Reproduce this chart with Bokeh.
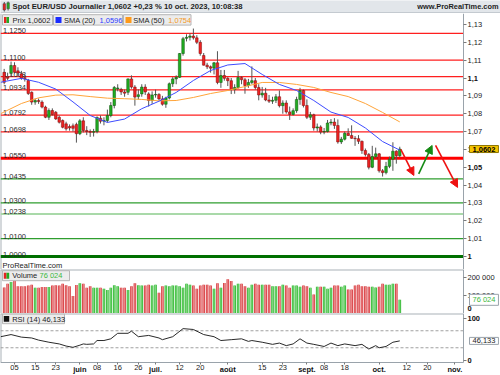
import pandas as pd
from bokeh.plotting import figure
from bokeh.layouts import column
from bokeh.models import (ColumnDataSource, Range1d, FixedTicker, Label,
                          Arrow, NormalHead, LinearAxis)
from bokeh.core.properties import value
from bokeh.embed import file_html
from bokeh.resources import INLINE

# ------------------------------------------------------------------ data
dates = pd.bdate_range("2023-05-02", "2023-10-10")          # 116 daily candles

opens = [
    1.1032, 1.1005, 1.1026, 1.1070, 1.1040, 1.1023, 1.1002, 1.0986, 1.0920, 1.0865, 1.0874,
    1.0865, 1.0837, 1.0780, 1.0818, 1.0808, 1.0780, 1.0762, 1.0743, 1.0728, 1.0732, 1.0740,
    1.0688, 1.0760, 1.0706, 1.0700, 1.0696, 1.0700, 1.0775, 1.0758, 1.0762, 1.0790, 1.0846,
    1.0940, 1.0936, 1.0922, 1.0920, 1.0995, 1.0949, 1.0896, 1.0911, 1.0949, 1.0911, 1.0874,
    1.0905, 1.0908, 1.0883, 1.0853, 1.0888, 1.0968, 1.0995, 1.1004, 1.1137, 1.1222, 1.1228,
    1.1235, 1.1225, 1.1200, 1.1126, 1.1072, 1.1063, 1.1055, 1.1085, 1.0975, 1.1014,
    1.0998, 1.0985, 1.0935, 1.0947, 1.1003, 1.0990, 1.0958, 1.0975, 1.0985, 1.0947, 1.0905,
    1.0915, 1.0877, 1.0870, 1.0875, 1.0895, 1.0845, 1.0860, 1.0810, 1.0796, 1.0817, 1.0880, 1.0930,
    1.0846, 1.0780, 1.0794, 1.0720, 1.0726, 1.0697, 1.0700, 1.0748, 1.0753, 1.0734, 1.0642,
    1.0657, 1.0690, 1.0678, 1.0662, 1.0660, 1.0645, 1.0594, 1.0572, 1.0500, 1.0560,
    1.0575, 1.0480, 1.0470, 1.0505, 1.0545, 1.0590, 1.0565,
]
highs = [
    1.1051, 1.1030, 1.1092, 1.1088, 1.1060, 1.1040, 1.1020, 1.0995, 1.0925, 1.0885, 1.0885,
    1.0875, 1.0845, 1.0830, 1.0830, 1.0815, 1.0790, 1.0768, 1.0755, 1.0740, 1.0745, 1.0750,
    1.0770, 1.0780, 1.0730, 1.0712, 1.0715, 1.0785, 1.0790, 1.0780, 1.0823, 1.0865, 1.0955,
    1.0965, 1.0945, 1.0935, 1.0998, 1.1015, 1.0960, 1.0936, 1.0965, 1.0965, 1.0920, 1.0925,
    1.0935, 1.0915, 1.0900, 1.0895, 1.0975, 1.1005, 1.1015, 1.1140, 1.1230, 1.1245, 1.1250,
    1.1277, 1.1240, 1.1212, 1.1140, 1.1085, 1.1070, 1.1090, 1.1150, 1.1045, 1.1045,
    1.1005, 1.1000, 1.0965, 1.1040, 1.1010, 1.1000, 1.0995, 1.1065, 1.1000, 1.0965, 1.0950,
    1.0945, 1.0905, 1.0895, 1.0910, 1.0930, 1.0875, 1.0875, 1.0840, 1.0830, 1.0895, 1.0945, 1.0935,
    1.0880, 1.0810, 1.0800, 1.0745, 1.0735, 1.0720, 1.0765, 1.0770, 1.0775, 1.0768, 1.0670,
    1.0700, 1.0718, 1.0735, 1.0675, 1.0680, 1.0650, 1.0605, 1.0580, 1.0620, 1.0610,
    1.0580, 1.0490, 1.0530, 1.0560, 1.0640, 1.0595, 1.0615,
]
lows = [
    1.0965, 1.0988, 1.1010, 1.1025, 1.1010, 1.0990, 1.0980, 1.0905, 1.0850, 1.0850, 1.0855,
    1.0830, 1.0775, 1.0765, 1.0790, 1.0765, 1.0745, 1.0718, 1.0705, 1.0705, 1.0700, 1.0638,
    1.0680, 1.0695, 1.0680, 1.0670, 1.0672, 1.0690, 1.0745, 1.0735, 1.0750, 1.0780, 1.0830,
    1.0925, 1.0905, 1.0895, 1.0905, 1.0940, 1.0845, 1.0880, 1.0895, 1.0905, 1.0840, 1.0855,
    1.0890, 1.0875, 1.0845, 1.0833, 1.0880, 1.0950, 1.0965, 1.1000, 1.1125, 1.1205, 1.1210,
    1.1215, 1.1190, 1.1125, 1.1070, 1.1050, 1.1030, 1.1020, 1.0965, 1.0945, 1.0985,
    1.0955, 1.0910, 1.0912, 1.0940, 1.0965, 1.0912, 1.0945, 1.0965, 1.0935, 1.0875, 1.0890,
    1.0870, 1.0860, 1.0855, 1.0860, 1.0835, 1.0800, 1.0800, 1.0765, 1.0790, 1.0805, 1.0850, 1.0835,
    1.0770, 1.0765, 1.0705, 1.0700, 1.0685, 1.0685, 1.0695, 1.0735, 1.0715, 1.0632, 1.0630,
    1.0650, 1.0675, 1.0660, 1.0620, 1.0630, 1.0575, 1.0560, 1.0488, 1.0495, 1.0550,
    1.0470, 1.0448, 1.0460, 1.0495, 1.0480, 1.0520, 1.0555,
]
closes = [
    1.0976, 1.0998, 1.1070, 1.1032, 1.1028, 1.0999, 1.0996, 1.0913, 1.0865, 1.0874, 1.0868,
    1.0837, 1.0780, 1.0818, 1.0795, 1.0771, 1.0752, 1.0724, 1.0715, 1.0720, 1.0718, 1.0688,
    1.0760, 1.0706, 1.0700, 1.0696, 1.0700, 1.0779, 1.0758, 1.0762, 1.0790, 1.0846, 1.0947,
    1.0944, 1.0922, 1.0915, 1.0995, 1.0949, 1.0893, 1.0906, 1.0949, 1.0922, 1.0874, 1.0905,
    1.0908, 1.0883, 1.0853, 1.0888, 1.0968, 1.0995, 1.1004, 1.1137, 1.1220, 1.1228, 1.1235,
    1.1225, 1.1200, 1.1137, 1.1072, 1.1063, 1.1055, 1.1085, 1.0975, 1.1014, 1.0998,
    1.0985, 1.0935, 1.0947, 1.1003, 1.0990, 1.0958, 1.0975, 1.0985, 1.0947, 1.0905, 1.0915,
    1.0877, 1.0870, 1.0875, 1.0895, 1.0845, 1.0860, 1.0810, 1.0796, 1.0817, 1.0880, 1.0930, 1.0846,
    1.0780, 1.0794, 1.0720, 1.0726, 1.0697, 1.0700, 1.0748, 1.0753, 1.0734, 1.0642, 1.0657,
    1.0690, 1.0678, 1.0662, 1.0660, 1.0645, 1.0594, 1.0572, 1.0500, 1.0560, 1.0575,
    1.0480, 1.0470, 1.0505, 1.0545, 1.0590, 1.0565, 1.0602,
]
volume_thousands = [
    145, 165, 175, 183, 152, 152, 152, 155, 160, 143,
    143, 147, 147, 147, 155, 157, 155, 165, 157, 152,
    97, 158, 168, 165, 143, 152, 143, 143, 143, 138,
    130, 143, 157, 152, 143, 143, 130, 152, 168, 157,
    155, 155, 160, 155, 160, 115, 152, 155, 152, 155,
    155, 152, 143, 165, 160, 155, 138, 155, 160, 160,
    155, 138, 168, 143, 170, 190, 180, 155, 165, 165,
    152, 143,
    160, 165, 160, 160, 160, 160, 152, 152, 152, 160,
    155, 143, 155, 155, 148, 155, 152, 143, 105, 148,
    148, 148, 138, 143, 155, 155, 148, 155, 133, 133,
    155, 160, 152, 152, 148, 148, 145, 148, 165, 160,
    160, 165, 165, 76.024,
]

# moving averages (candle index, value)
sma_idx = [-1, 0, 5, 10, 15, 20, 25, 30, 35, 40, 45, 50, 55, 60, 65, 70, 75, 80, 85,
           90, 95, 100, 105, 110, 115]
sma20 = [1.0976, 1.0980, 1.0998, 1.0976, 1.0938, 1.0866, 1.0790, 1.0751, 1.0770, 1.0828,
         1.0870, 1.0919, 1.0986, 1.1042, 1.1073, 1.1081, 1.1020, 1.0964, 1.0930, 1.0874,
         1.0809, 1.0779, 1.0720, 1.0644, 1.0596]
sma50 = [1.0800, 1.0810, 1.0857, 1.0889, 1.0904, 1.0906, 1.0896, 1.0887, 1.0884, 1.0880,
         1.0872, 1.0874, 1.0891, 1.0913, 1.0930, 1.0952, 1.0975, 1.0975, 1.0964, 1.0947,
         1.0919, 1.0896, 1.0857, 1.0807, 1.0754]

# RSI(14)
rsi_idx = [-1, 2, 5, 8, 10, 13, 16, 18, 20, 22, 23, 24, 26, 27, 29, 31, 33, 36, 37, 39,
           42, 45, 46, 49, 52, 55, 58, 61, 63, 66, 69, 71, 72, 75, 78, 80, 82, 84, 86, 88,
           90, 93, 95, 97, 99, 102, 104, 106, 108, 109, 111, 113, 115]
rsi_vals = [56, 61, 55, 53, 48, 43, 39, 34, 31, 36, 39, 38, 39, 47, 47, 51, 64, 64, 69, 56,
            59, 53, 49, 56, 75, 73, 61, 56, 47, 49, 51, 45, 47, 43, 38, 41, 35, 39, 51, 41,
            38, 33, 41, 35, 39, 35, 38, 27, 35, 30, 33, 43, 46.133]

# support / resistance levels
level_values = [1.1250, 1.1100, 1.1008, 1.0934, 1.0792, 1.0698, 1.0550,
                1.0435, 1.0300, 1.0238, 1.0100, 1.0000]
level_labels = ["1,1250", "1,1100", "1,1008", "1,0934", "1,0792", "1,0698", "1,0550",
                "1,0435", "1,0300", "1,0238", "1,0100", "1,0000"]
level_kinds = ["res", "res", "res", "res", "res", "res", "res_major",
               "sup", "sup", "sup_light", "sup", "sup_major"]

# projected path arrows (candle index, price)
arrow_x0 = [115.3, 120.5, 125.4]
arrow_y0 = [1.0600, 1.0463, 1.0622]
arrow_x1 = [119.1, 124.4, 131.8]
arrow_y1 = [1.0454, 1.0622, 1.0387]
arrow_kind = ["down", "up", "down"]

price_ticks = [1.00, 1.01, 1.02, 1.03, 1.04, 1.05, 1.06, 1.07, 1.08, 1.09, 1.10, 1.11, 1.12, 1.13]
price_tick_labels = ["1", "1,01", "1,02", "1,03", "1,04", "1,05", "1,06", "1,07", "1,08",
                     "1,09", "1,1", "1,11", "1,12", "1,13"]
price_bold = ["1", "1,05", "1,1"]

vol_ticks = [0, 100000, 200000]
vol_tick_labels = ["0", "100 000", "200 000"]
rsi_ticks = [0, 100]
rsi_tick_labels = ["0", "100"]

tick_dates = ["2023-05-05", "2023-05-15", "2023-05-23", "2023-06-01", "2023-06-08",
              "2023-06-16", "2023-06-26", "2023-07-03", "2023-07-12", "2023-07-20",
              "2023-08-01", "2023-08-15", "2023-08-23", "2023-09-01", "2023-09-08",
              "2023-09-18", "2023-10-02", "2023-10-12", "2023-10-20", "2023-11-01"]
tick_labels = ["05", "15", "23", "juin", "08", "16", "26", "juil.", "12", "20",
               "août", "15", "23", "sept.", "08", "18", "oct.", "12", "20", "nov."]
month_labels = ["juin", "juil.", "août", "sept.", "oct.", "nov."]

title_text = "Spot EUR/USD Journalier 1,0602 +0,23 % 10 oct. 2023, 10:08:38"

# ------------------------------------------------------------------ geometry
FONT = "Liberation Sans"
FS = "7.5px"
W = 500
EDGE = 463                     # pixel column of the price/volume/RSI axis line
H_TITLE, H_PRICE, H_VOL, H_RSI = 13, 256, 44, 62
XAXIS_ROW = 362                # pixel row of the time axis

# chart scales measured on the reference picture (pixel rows / columns)
def ref_price(yr): return 1 + (256 - yr) / 1785
def ref_vol(yr): return (313 - yr) / 18 * 1e5
def ref_rsi(yr): return (360 - yr) / 0.425
def ref_idx(xr): return (xr - 3.68) / 3.44

XR0, XR1 = ref_idx(0), ref_idx(W)
X_EDGE = ref_idx(EDGE)
y_p_top, y_p_bot = H_TITLE, H_TITLE + H_PRICE
y_v_bot = y_p_bot + H_VOL
y_r_bot = y_v_bot + H_RSI
PR_TOP, PR_BOT = ref_price(y_p_top), ref_price(y_p_bot)
VOL_TOP, VOL_BOT = ref_vol(y_p_bot), ref_vol(y_v_bot)
RSI_TOP, RSI_BOT = ref_rsi(y_v_bot), ref_rsi(y_r_bot)
RSI_AXIS = ref_rsi(XAXIS_ROW)

def px2x(px): return XR0 + px * (XR1 - XR0) / W
def px2y(py, top, bot, h): return top - py * (top - bot) / h

xr = Range1d(XR0, XR1)
GRID_GREY = "#aab1b8"

# ------------------------------------------------------------------ sources
x = list(range(len(dates)))
up = [c >= o for o, c in zip(opens, closes)]
src = ColumnDataSource(dict(
    x=x, h=highs, l=lows,
    top=[max(o, c) for o, c in zip(opens, closes)],
    bot=[min(o, c) for o, c in zip(opens, closes)],
    fill=["#21ad21" if u else "#ec2222" for u in up],
    edge=["#0e4f0e" if u else "#7c0c0c" for u in up],
    vol=[v * 1000 for v in volume_thousands],
    vfill=["#3fbd3f" if u else "#d9474b" for u in up],
    vhi=["#8fe08f" if u else "#f19a9a" for u in up],
))

def panel(height, y0, y1):
    f = figure(width=W, height=height, x_range=xr, y_range=Range1d(y0, y1),
               x_axis_type=None, y_axis_type=None, toolbar_location=None,
               output_backend="svg", min_border=0)
    f.background_fill_color = "white"
    f.border_fill_color = "white"
    f.outline_line_color = None
    return f

def style_axis(ax, bold=False, color="#222222"):
    ax.major_label_text_font = FONT
    ax.major_label_text_font_size = FS
    ax.major_label_text_color = color
    ax.major_label_text_font_style = "bold" if bold else "normal"
    ax.axis_line_color = "#9aa3ab"
    ax.major_tick_line_color = "#7a7a7a"
    ax.major_tick_out = 3
    ax.major_tick_in = 0
    ax.minor_tick_line_color = None
    ax.major_label_standoff = 1

def right_axis(fig, ticks, labels, bold=False, color="#222222", with_line=True):
    ax = LinearAxis(fixed_location=X_EDGE,
                    ticker=FixedTicker(ticks=ticks, minor_ticks=[]),
                    major_label_overrides=dict(zip(ticks, labels)))
    style_axis(ax, bold=bold, color=color)
    if not with_line:
        ax.axis_line_color = None
        ax.major_tick_line_color = None
        ax.major_tick_out = 0
        ax.major_label_standoff = 4
    fig.add_layout(ax, "right")
    return ax

def txt(fig, xx, yy, text, color="#1e1e1e", size=FS, bold=False, align="left",
        baseline="middle", bg=None, border=None):
    lab = Label(x=xx, y=yy, text=text, text_font=FONT, text_font_size=size,
                text_color=color, text_font_style="bold" if bold else "normal",
                text_align=align, text_baseline=baseline)
    if bg is not None:
        lab.background_fill_color = bg
        lab.border_line_color = border
        for pad in (dict(left=3, right=3, top=1, bottom=1), 2):
            try:
                lab.padding = pad
                break
            except Exception:
                continue
    fig.add_layout(lab)

def frame_lines(fig, top, bottom, draw_top=True):
    """Thin grey panel borders (left edge and top separator) up to the axis column."""
    fig.segment(x0=[XR0], y0=[bottom], x1=[XR0], y1=[top], line_color=GRID_GREY, line_width=2)
    if draw_top:
        fig.segment(x0=[XR0], y0=[top], x1=[X_EDGE], y1=[top], line_color=GRID_GREY,
                    line_width=2)

# ------------------------------------------------------------------ title bar
t = figure(width=W, height=H_TITLE, x_range=Range1d(0, W), y_range=Range1d(0, H_TITLE),
           x_axis_type=None, y_axis_type=None, toolbar_location=None, output_backend="svg",
           min_border=0)
t.background_fill_color = "#e2e6ea"
t.border_fill_color = "#e2e6ea"
t.outline_line_color = None
t.segment([0], [0.5], [W], [0.5], line_color="#a7afb7", line_width=1)
t.segment([3.8, 7.6], [2.0, 3.0], [3.8, 7.6], [11.5, 12.0], line_color="#555555", line_width=1)
t.quad(left=[2.5, 6.4], right=[5.1, 8.9], bottom=[3.5, 4.8], top=[9.8, 10.8],
       fill_color=["#e52222", "#22aa22"], line_color="#444444", line_width=0.5)
txt(t, 12, 6.6, title_text, bold=True, size="7.7px")
txt(t, 498, 6.6, "www.ProRealTime.com", bold=True, size="7.4px", align="right")

# ------------------------------------------------------------------ price panel
p = panel(H_PRICE, PR_BOT, PR_TOP)
frame_lines(p, PR_TOP, PR_BOT, draw_top=False)
right_axis(p, price_ticks, ["" if lb in price_bold else lb for lb in price_tick_labels])
bold_ticks = [tk for tk, lb in zip(price_ticks, price_tick_labels) if lb in price_bold]
bold_labs = [lb for lb in price_tick_labels if lb in price_bold]
right_axis(p, bold_ticks, bold_labs, bold=True, color="#111111", with_line=False)

LEVEL_STYLE = {
    "res": dict(line_color="#ff1f1f", line_width=1.2),
    "res_major": dict(line_color="#ff0000", line_width=3),
    "sup": dict(line_color="#2f9e2f", line_width=1.2),
    "sup_light": dict(line_color="#a9d9a9", line_width=2),
    "sup_major": dict(line_color="#007000", line_width=3),
}
for kind, style in LEVEL_STYLE.items():
    ys = [lv for lv, k in zip(level_values, level_kinds) if k == kind]
    p.segment(x0=[XR0] * len(ys), y0=ys, x1=[X_EDGE] * len(ys), y1=ys, **style)

p.text(x=[px2x(2.6)] * len(level_values), y=level_values, text=level_labels,
       text_font=value(FONT), text_font_size=FS, text_color="#2a2a2a",
       text_baseline="bottom", text_align="left")

p.segment(x0="x", y0="h", x1="x", y1="l", source=src, line_color="#555555", line_width=1)
p.vbar(x="x", width=0.75, top="top", bottom="bot", source=src,
       fill_color="fill", line_color="edge", line_width=0.5)

p.line(sma_idx, sma50, line_color="#ffa43a", line_width=1)
p.line(sma_idx, sma20, line_color="#3e4cff", line_width=1)

ARROW_COL = {"down": "#ee1111", "up": "#138a13"}
for a0, b0, a1, b1, k in zip(arrow_x0, arrow_y0, arrow_x1, arrow_y1, arrow_kind):
    c = ARROW_COL[k]
    p.add_layout(Arrow(end=NormalHead(size=8, fill_color=c, line_color=c),
                       x_start=a0, y_start=b0, x_end=a1, y_end=b1,
                       line_color=c, line_width=1.6))

def pY(py): return px2y(py, PR_TOP, PR_BOT, H_PRICE)

# legend boxes
p.quad(left=[px2x(2), px2x(53), px2x(123)],
       right=[px2x(52), px2x(122), px2x(190.5)],
       top=[pY(1.2)] * 3, bottom=[pY(11.6)] * 3,
       fill_color="#ececec", line_color="#b6b6b6", line_width=1)
p.quad(left=[px2x(3.5), px2x(6.0), px2x(55), px2x(125)],
       right=[px2x(6.0), px2x(8.5), px2x(61), px2x(131)],
       top=[pY(3.4)] * 4, bottom=[pY(9.4)] * 4,
       fill_color=["#e52222", "#22aa22", "#1a2cff", "#ff9a1a"], line_color=None)
txt(p, px2x(12), pY(6.5), "Prix 1,0602")
txt(p, px2x(63.5), pY(6.5), "SMA (20)")
txt(p, px2x(99), pY(6.5), "1,0596", color="#2b3bff")
txt(p, px2x(132.7), pY(6.5), "SMA (50)")
txt(p, px2x(167.7), pY(6.5), "1,0754", color="#f29a27")
txt(p, px2x(2), pY(252), "ProRealTime.com", color="#222222")

# last price marker on the axis
txt(p, px2x(EDGE + 6), closes[-1], "1,0602", bold=True, color="#000000",
    bg="#f6c400", border="#8c7400")

# ------------------------------------------------------------------ volume panel
v = panel(H_VOL, VOL_BOT, VOL_TOP)
frame_lines(v, VOL_TOP, VOL_BOT)
right_axis(v, vol_ticks, ["" if lb == "0" else lb for lb in vol_tick_labels])

def vY(py): return px2y(py, VOL_TOP, VOL_BOT, H_VOL)

# the bold "0" sits a little above the baseline, as in the original
right_axis(v, [vY(38.7)], ["0"], bold=True, color="#111111", with_line=False)

v.vbar(x="x", width=0.78, top="vol", bottom=0, source=src, fill_color="vfill", line_color=None)
v.vbar(x="x", width=0.22, top="vol", bottom=0, source=src, fill_color="vhi", line_color=None)

v.quad(left=[px2x(2)], right=[px2x(69)], top=[vY(1.2)], bottom=[vY(11.2)],
       fill_color="#ececec", line_color="#b6b6b6")
v.quad(left=[px2x(3.3), px2x(6.0)], right=[px2x(6.0), px2x(8.7)],
       top=[vY(3.3)] * 2, bottom=[vY(9.2)] * 2,
       fill_color=["#e52222", "#22aa22"], line_color=None)
txt(v, px2x(11.7), vY(6.3), "Volume")
txt(v, px2x(39), vY(6.3), "76 024", color="#3cb83c")
txt(v, px2x(EDGE + 6), volume_thousands[-1] * 1000, "76 024", color="#3cb83c",
    bg="white", border="#9aa3ab")

# ------------------------------------------------------------------ RSI panel
r = panel(H_RSI, RSI_BOT, RSI_TOP)
frame_lines(r, RSI_TOP, RSI_AXIS)
rax = LinearAxis(fixed_location=X_EDGE, bounds=(RSI_AXIS, RSI_TOP),
                 ticker=FixedTicker(ticks=rsi_ticks, minor_ticks=[]),
                 major_label_overrides=dict(zip(rsi_ticks, rsi_tick_labels)))
style_axis(rax, bold=True, color="#111111")
r.add_layout(rax, "right")

calendar = pd.bdate_range("2023-05-02", "2023-11-30")
tick_pos = [int(calendar.get_loc(pd.Timestamp(d))) for d in tick_dates]
xax = LinearAxis(fixed_location=RSI_AXIS, bounds=(XR0, X_EDGE),
                 ticker=FixedTicker(ticks=tick_pos, minor_ticks=[]),
                 major_label_overrides={tp: ("" if lb in month_labels else lb)
                                        for tp, lb in zip(tick_pos, tick_labels)})
style_axis(xax)
xax.major_tick_out = 2
xax.major_label_standoff = 0
r.add_layout(xax, "below")

month_pos = [tp for tp, lb in zip(tick_pos, tick_labels) if lb in month_labels]
xb = LinearAxis(fixed_location=RSI_AXIS, ticker=FixedTicker(ticks=month_pos, minor_ticks=[]),
                major_label_overrides=dict(zip(month_pos, month_labels)))
style_axis(xb, bold=True, color="#111111")
xb.axis_line_color = None
xb.major_tick_line_color = None
xb.major_tick_out = 0
xb.major_label_standoff = 2
r.add_layout(xb, "below")

def rY(py): return px2y(py, RSI_TOP, RSI_BOT, H_RSI)

r.segment(x0=[XR0, XR0], y0=[70, 30], x1=[X_EDGE, X_EDGE], y1=[70, 30],
          line_color="#a0a0a0", line_width=1, line_dash="3 2")
r.line(rsi_idx, rsi_vals, line_color="#2a2a2a", line_width=1)

r.quad(left=[px2x(2)], right=[px2x(64)], top=[rY(0.6)], bottom=[rY(10.2)],
       fill_color="#ececec", line_color="#b6b6b6")
r.quad(left=[px2x(3.3)], right=[px2x(8.7)], top=[rY(2.6)], bottom=[rY(8.2)],
       fill_color="#111111", line_color=None)
txt(r, px2x(11.7), rY(5.5), "RSI (14) 46,133")
txt(r, px2x(EDGE + 6), rsi_vals[-1], "46,133", color="#222222",
    bg="white", border="#9aa3ab")

layout = column(t, p, v, r, spacing=0)
open("out.html", "w").write(file_html(layout, INLINE))
